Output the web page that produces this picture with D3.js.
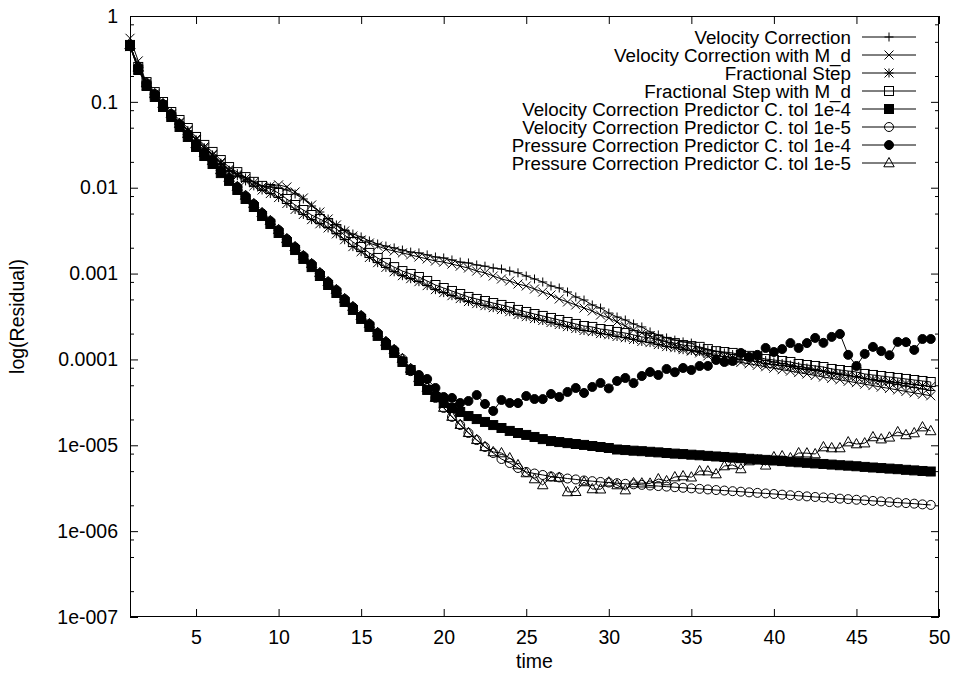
<!DOCTYPE html>
<html><head><meta charset="utf-8">
<script src="https://cdn.jsdelivr.net/npm/d3@7"></script>
<style>
body{margin:0;background:#fff;}
svg text{font-family:"Liberation Sans",Arial,Helvetica,sans-serif;}
</style>
</head><body>
<svg id="chart" width="954" height="675"></svg>
<script>
// ---------- data ----------
const times = [1,1.5,2,2.5,3,3.5,4,4.5,5,5.5,6,6.5,7,7.5,8,8.5,9,9.5,10,10.5,
 11,11.5,12,12.5,13,13.5,14,14.5,15,15.5,16,16.5,17,17.5,18,18.5,19,19.5,20,20.5,
 21,21.5,22,22.5,23,23.5,24,24.5,25,25.5,26,26.5,27,27.5,28,28.5,29,29.5,30,30.5,
 31,31.5,32,32.5,33,33.5,34,34.5,35,35.5,36,36.5,37,37.5,38,38.5,39,39.5,40,40.5,
 41,41.5,42,42.5,43,43.5,44,44.5,45,45.5,46,46.5,47,47.5,48,48.5,49,49.5];

const seriesNames = ["Velocity Correction","Velocity Correction with M_d","Fractional Step",
 "Fractional Step with M_d","Velocity Correction Predictor C. tol 1e-4",
 "Velocity Correction Predictor C. tol 1e-5","Pressure Correction Predictor C. tol 1e-4",
 "Pressure Correction Predictor C. tol 1e-5"];
const seriesMarkers = ["plus","cross","star","box","fbox","circle","fcircle","triangle"];

const velCorr = [0.45,0.245,0.160,0.121,0.093,0.071,0.057,0.046,0.036,0.029,
 0.024,0.0193,0.0160,0.0146,0.0130,0.0117,0.0105,0.0102,0.00993,0.00941,
 0.00845,0.00739,0.00612,0.00521,0.00432,0.00368,0.00322,0.00289,0.00267,0.00240,
 0.00221,0.00209,0.00199,0.00188,0.00178,0.00174,0.00165,0.00156,0.00152,0.00144,
 0.00136,0.00133,0.00126,0.00122,0.00116,0.00113,0.00107,0.00102,0.000937,0.000865,
 0.000798,0.000717,0.000679,0.000610,0.000534,0.000492,0.000431,0.000397,0.000347,0.000312,
 0.000288,0.000259,0.000239,0.000209,0.000193,0.000178,0.000168,0.000160,0.000155,0.000136,
 0.000129,0.000124,0.000119,0.000114,0.000110,0.000105,0.000101,9.72e-5,9.34e-5,8.97e-5,
 8.61e-5,8.28e-5,7.95e-5,7.63e-5,7.33e-5,7.05e-5,6.77e-5,6.50e-5,6.24e-5,6.00e-5,
 5.76e-5,5.53e-5,5.32e-5,5.11e-5,4.90e-5,4.71e-5,4.53e-5,4.35e-5];

const velCorrMd = [0.55,0.30,0.165,0.124,0.094,0.072,0.058,0.047,0.037,0.030,
 0.0245,0.0198,0.0163,0.0143,0.0128,0.0115,0.0102,0.0105,0.0108,0.0102,
 0.00892,0.00759,0.00629,0.00521,0.00432,0.00368,0.00313,0.00274,0.00246,0.00227,
 0.00209,0.00193,0.00183,0.00174,0.00165,0.00156,0.00148,0.00140,0.00136,0.00129,
 0.00122,0.00116,0.00107,0.00102,0.000937,0.000865,0.000820,0.000756,0.000717,0.000661,
 0.000610,0.000563,0.000506,0.000467,0.000431,0.000397,0.000367,0.000329,0.000304,0.000273,
 0.000245,0.000220,0.000203,0.000188,0.000173,0.000160,0.000147,0.000136,0.000125,0.000119,
 0.000110,0.000104,9.98e-5,9.59e-5,9.24e-5,8.90e-5,8.55e-5,8.21e-5,7.91e-5,7.59e-5,
 7.31e-5,7.03e-5,6.77e-5,6.50e-5,6.24e-5,6.01e-5,5.79e-5,5.56e-5,5.36e-5,5.15e-5,
 4.96e-5,4.76e-5,4.59e-5,4.41e-5,4.24e-5,4.08e-5,3.93e-5,3.77e-5];

const fracStep = [0.44,0.240,0.158,0.120,0.0925,0.0705,0.0568,0.0458,0.0358,0.0289,
 0.0239,0.0192,0.0159,0.0138,0.0120,0.0105,0.00940,0.00855,0.00768,0.00655,
 0.00558,0.00488,0.00425,0.00380,0.00340,0.00290,0.00248,0.00206,0.00180,0.00154,
 0.00134,0.00118,0.00105,0.000945,0.000872,0.000805,0.000724,0.000650,0.000600,0.000553,
 0.000511,0.000472,0.000447,0.000423,0.000401,0.000381,0.000360,0.000333,0.000315,0.000299,
 0.000284,0.000269,0.000255,0.000241,0.000229,0.000217,0.000211,0.000200,0.000194,0.000185,
 0.000179,0.000171,0.000162,0.000157,0.000149,0.000141,0.000137,0.000130,0.000127,0.000124,
 0.000117,0.000111,0.000108,0.000105,0.000100,9.72e-5,9.46e-5,8.93e-5,8.70e-5,8.48e-5,
 8.25e-5,7.82e-5,7.61e-5,7.41e-5,7.21e-5,6.84e-5,6.65e-5,6.48e-5,6.31e-5,5.98e-5,
 5.82e-5,5.67e-5,5.51e-5,5.37e-5,5.23e-5,5.09e-5,4.96e-5,4.83e-5];

const fracStepMd = [0.460,0.255,0.170,0.130,0.0996,0.0762,0.0615,0.0496,0.0390,0.0315,
 0.0261,0.0210,0.0174,0.0152,0.0133,0.0117,0.0105,0.00966,0.00868,0.00739,
 0.00629,0.00550,0.00481,0.00432,0.00388,0.00330,0.00281,0.00233,0.00204,0.00174,
 0.00152,0.00133,0.00119,0.00107,0.000989,0.000912,0.000820,0.000736,0.000679,0.000627,
 0.000578,0.000534,0.000506,0.000479,0.000454,0.000431,0.000408,0.000377,0.000357,0.000338,
 0.000321,0.000304,0.000288,0.000273,0.000259,0.000245,0.000239,0.000226,0.000220,0.000209,
 0.000203,0.000193,0.000183,0.000178,0.000168,0.000160,0.000155,0.000147,0.000143,0.000140,
 0.000132,0.000125,0.000122,0.000119,0.000113,0.000110,0.000107,0.000101,9.85e-5,9.59e-5,
 9.34e-5,8.85e-5,8.61e-5,8.39e-5,8.16e-5,7.74e-5,7.53e-5,7.33e-5,7.14e-5,6.77e-5,
 6.59e-5,6.41e-5,6.24e-5,6.08e-5,5.92e-5,5.76e-5,5.61e-5,5.46e-5];

const vcPred4 = [0.447,0.235,0.153,0.114,0.0871,0.0666,0.0510,0.0390,0.0298,0.0234,
 0.0189,0.0148,0.0120,0.00941,0.00739,0.00596,0.00468,0.00378,0.00297,0.00233,
 0.00188,0.00148,0.00119,0.000937,0.000736,0.000594,0.000467,0.000377,0.000296,0.000239,
 0.000188,0.000147,0.000119,9.34e-5,7.53e-5,5.61e-5,4.41e-5,3.65e-5,3.11e-5,2.72e-5,
 2.44e-5,2.19e-5,2.02e-5,1.87e-5,1.72e-5,1.59e-5,1.47e-5,1.39e-5,1.32e-5,1.25e-5,
 1.18e-5,1.12e-5,1.09e-5,1.06e-5,1.035e-5,1.01e-5,9.81e-6,9.55e-6,9.30e-6,8.93e-6,
 8.8e-6,8.65e-6,8.54e-6,8.4e-6,8.27e-6,8.13e-6,8.0e-6,7.9e-6,7.77e-6,7.65e-6,
 7.53e-6,7.41e-6,7.31e-6,7.19e-6,7.08e-6,6.96e-6,6.85e-6,6.76e-6,6.65e-6,6.55e-6,
 6.44e-6,6.34e-6,6.25e-6,6.15e-6,6.06e-6,5.96e-6,5.86e-6,5.79e-6,5.7e-6,5.6e-6,
 5.51e-6,5.43e-6,5.35e-6,5.27e-6,5.18e-6,5.1e-6,5.02e-6,4.95e-6];

const vcPred5 = [0.46,0.254,0.165,0.123,0.094,0.072,0.055,0.042,0.032,0.0253,
 0.0204,0.0160,0.0130,0.0102,0.0080,0.00644,0.00505,0.00408,0.00321,0.00252,
 0.00203,0.00160,0.00129,0.00101,0.000795,0.000642,0.000504,0.000407,0.000320,0.000258,
 0.000203,0.000159,0.000129,0.000101,7.74e-5,6.08e-5,4.65e-5,3.56e-5,2.72e-5,2.14e-5,
 1.72e-5,1.39e-5,1.15e-5,9.55e-6,8.13e-6,6.92e-6,6.22e-6,5.44e-6,4.89e-6,4.69e-6,
 4.51e-6,4.33e-6,4.22e-6,4.10e-6,4.00e-6,3.89e-6,3.82e-6,3.74e-6,3.68e-6,3.62e-6,
 3.56e-6,3.51e-6,3.46e-6,3.40e-6,3.35e-6,3.30e-6,3.25e-6,3.20e-6,3.15e-6,3.11e-6,
 3.06e-6,3.01e-6,2.97e-6,2.92e-6,2.88e-6,2.83e-6,2.79e-6,2.75e-6,2.71e-6,2.66e-6,
 2.62e-6,2.58e-6,2.54e-6,2.50e-6,2.47e-6,2.43e-6,2.39e-6,2.36e-6,2.32e-6,2.29e-6,
 2.25e-6,2.22e-6,2.18e-6,2.15e-6,2.12e-6,2.09e-6,2.05e-6,2.02e-6];

const pcPred4 = [0.455,0.25,0.163,0.122,0.093,0.0712,0.0545,0.0416,0.0318,0.0251,
 0.0202,0.0158,0.0128,0.0101,0.0079,0.00638,0.00500,0.00404,0.00318,0.00250,
 0.00201,0.00158,0.00128,0.00100,0.000788,0.000636,0.000500,0.000403,0.000317,0.000256,
 0.000201,0.000158,0.000127,9.6e-5,7.3e-5,6.59e-5,5.92e-5,4.65e-5,3.65e-5,3.56e-5,
 3.11e-5,3.28e-5,3.85e-5,3.03e-5,2.51e-5,3.37e-5,3.11e-5,3.1e-5,3.75e-5,3.46e-5,
 3.45e-5,3.96e-5,3.65e-5,4.18e-5,4.65e-5,4.07e-5,4.78e-5,5.32e-5,4.6e-5,5.61e-5,
 6.08e-5,5.3e-5,6.41e-5,7.14e-5,6.59e-5,7.74e-5,7.1e-5,7.95e-5,7.53e-5,8.39e-5,
 8.4e-5,9.85e-5,9.34e-5,9.59e-5,1.19e-4,1.07e-4,1.13e-4,1.36e-4,1.22e-4,1.32e-4,
 1.55e-4,1.36e-4,1.55e-4,1.78e-4,1.56e-4,1.83e-4,1.98e-4,1.13e-4,8.39e-5,1.16e-4,
 1.40e-4,1.25e-4,1.12e-4,1.60e-4,1.59e-4,1.29e-4,1.73e-4,1.73e-4];

const pcPred5 = [0.46,0.252,0.166,0.124,0.095,0.0725,0.0555,0.0425,0.0323,0.0255,
 0.0206,0.0161,0.0131,0.0103,0.0081,0.00650,0.00510,0.00412,0.00324,0.00254,
 0.00205,0.00161,0.00130,0.00102,0.000802,0.000648,0.000509,0.000411,0.000323,0.000260,
 0.000205,0.000161,0.000130,0.000102,7.8e-5,6.1e-5,4.7e-5,3.6e-5,2.75e-5,2.16e-5,
 1.74e-5,1.40e-5,1.16e-5,9.6e-6,8.36e-6,8.13e-6,7.11e-6,5.90e-6,4.76e-6,4.05e-6,
 3.45e-6,4.27e-6,4.22e-6,2.86e-6,2.88e-6,3.74e-6,3.10e-6,3.08e-6,3.72e-6,3.45e-6,
 3.01e-6,3.64e-6,3.62e-6,3.60e-6,4.05e-6,3.84e-6,4.27e-6,4.39e-6,4.25e-6,5.02e-6,
 5.0e-6,4.63e-6,5.74e-6,5.90e-6,5.30e-6,6.56e-6,6.74e-6,5.85e-6,7.31e-6,7.50e-6,
 7.11e-6,8.13e-6,8.1e-6,7.92e-6,9.55e-6,9.30e-6,9.3e-6,1.09e-5,1.035e-5,1.06e-5,
 1.25e-5,1.18e-5,1.24e-5,1.43e-5,1.32e-5,1.39e-5,1.63e-5,1.47e-5];

const xTicks = [5,10,15,20,25,30,35,40,45,50];
const yTicks = [1,0.1,0.01,0.001,0.0001,1e-5,1e-6,1e-7];
const yTickLabels = ["1","0.1","0.01","0.001","0.0001","1e-005","1e-006","1e-007"];
const yMinorTicks = [0.8,0.5,0.2,0.08,0.05,0.02,0.008,0.005,0.002,0.0008,0.0005,0.0002,
 8e-5,5e-5,2e-5,8e-6,5e-6,2e-6,8e-7,5e-7,2e-7];
const xLabel = "time";
const yLabel = "log(Residual)";

const seriesValues = [velCorr, velCorrMd, fracStep, fracStepMd, vcPred4, vcPred5, pcPred4, pcPred5];

// ---------- drawing ----------
const svg = d3.select("#chart");
const L = 130, R = 939, T = 16, B = 617;
const x = d3.scaleLinear().domain([1, 50]).range([L, R]);
const y = d3.scaleLog().domain([1e-7, 1]).range([B, T]);
const FONT = 19.5;
const LEGEND_FONT = 18.8;

svg.append("rect").attr("width", 954).attr("height", 675).attr("fill", "#fff");

function styleAxis(g) {
  g.attr("font-size", FONT).attr("font-family", '"Liberation Sans", Arial, sans-serif');
  g.select(".domain").remove();
  g.selectAll("text").attr("fill", "#000");
  g.selectAll("line").attr("stroke", "#000");
}

// bottom
svg.append("g").attr("transform", `translate(0,${B})`)
  .call(d3.axisBottom(x).tickValues(xTicks).tickSizeInner(-8).tickSizeOuter(0).tickPadding(13).tickFormat(d3.format("d")))
  .call(styleAxis);
// top mirror
svg.append("g").attr("transform", `translate(0,${T})`)
  .call(d3.axisTop(x).tickValues(xTicks).tickSizeInner(-8).tickSizeOuter(0).tickFormat(""))
  .call(styleAxis);
// left
svg.append("g").attr("transform", `translate(${L},0)`)
  .call(d3.axisLeft(y).tickValues(yTicks).tickSizeInner(-8).tickSizeOuter(0).tickPadding(12)
    .tickFormat((d, i) => yTickLabels[i]))
  .call(styleAxis);
svg.append("g").attr("transform", `translate(${L},0)`)
  .call(d3.axisLeft(y).tickValues(yMinorTicks).tickSizeInner(-4).tickSizeOuter(0).tickFormat(""))
  .call(styleAxis);
// right mirror
svg.append("g").attr("transform", `translate(${R},0)`)
  .call(d3.axisRight(y).tickValues(yTicks).tickSizeInner(-8).tickSizeOuter(0).tickFormat(""))
  .call(styleAxis);
svg.append("g").attr("transform", `translate(${R},0)`)
  .call(d3.axisRight(y).tickValues(yMinorTicks).tickSizeInner(-4).tickSizeOuter(0).tickFormat(""))
  .call(styleAxis);

// border
svg.append("rect").attr("x", L + 0.5).attr("y", T + 0.5).attr("width", R - L - 1).attr("height", B - T - 1)
  .attr("fill", "none").attr("stroke", "#000").attr("stroke-width", 1);

// axis labels
svg.append("text").attr("x", (L + R) / 2).attr("y", 668).attr("text-anchor", "middle")
  .attr("font-size", FONT).text(xLabel);
svg.append("text").attr("transform", `translate(24,${(T + B) / 2}) rotate(-90)`).attr("text-anchor", "middle")
  .attr("font-size", FONT).text(yLabel);

// markers
function drawMarker(g, type, cx, cy) {
  const s = 4.5;
  if (type === "plus") {
    g.append("path").attr("d", `M${cx - s},${cy}H${cx + s}M${cx},${cy - s}V${cy + s}`).attr("stroke", "#000").attr("fill", "none");
  } else if (type === "cross") {
    g.append("path").attr("d", `M${cx - s},${cy - s}L${cx + s},${cy + s}M${cx - s},${cy + s}L${cx + s},${cy - s}`).attr("stroke", "#000").attr("fill", "none");
  } else if (type === "star") {
    g.append("path").attr("d", `M${cx - s},${cy}H${cx + s}M${cx},${cy - s}V${cy + s}M${cx - s},${cy - s}L${cx + s},${cy + s}M${cx - s},${cy + s}L${cx + s},${cy - s}`).attr("stroke", "#000").attr("fill", "none");
  } else if (type === "box") {
    g.append("rect").attr("x", cx - s).attr("y", cy - s).attr("width", 2 * s).attr("height", 2 * s).attr("stroke", "#000").attr("fill", "none");
  } else if (type === "fbox") {
    g.append("rect").attr("x", cx - s).attr("y", cy - s).attr("width", 2 * s).attr("height", 2 * s).attr("stroke", "#000").attr("fill", "#000");
  } else if (type === "circle") {
    g.append("circle").attr("cx", cx).attr("cy", cy).attr("r", s).attr("stroke", "#000").attr("fill", "none");
  } else if (type === "fcircle") {
    g.append("circle").attr("cx", cx).attr("cy", cy).attr("r", s).attr("stroke", "#000").attr("fill", "#000");
  } else if (type === "triangle") {
    g.append("path").attr("d", `M${cx},${cy - 5.5}L${cx + 5.2},${cy + 3.8}L${cx - 5.2},${cy + 3.8}Z`).attr("stroke", "#000").attr("fill", "none");
  }
}

const line = d3.line().x((d, i) => x(times[i])).y(d => y(d));

seriesValues.forEach((vals, k) => {
  const g = svg.append("g").attr("class", "series");
  g.append("path").attr("d", line(vals)).attr("fill", "none").attr("stroke", "#000").attr("stroke-width", 1);
  vals.forEach((v, i) => drawMarker(g, seriesMarkers[k], x(times[i]), y(v)));
});

// legend
const legend = svg.append("g").attr("class", "legend");
seriesNames.forEach((name, k) => {
  const ly = 37 + 18 * k;
  legend.append("text").attr("x", 851).attr("y", ly).attr("dy", "0.35em").attr("text-anchor", "end")
    .attr("font-size", LEGEND_FONT).attr("fill", "#000").text(name);
  legend.append("line").attr("x1", 862).attr("x2", 916).attr("y1", ly).attr("y2", ly).attr("stroke", "#000");
  drawMarker(legend, seriesMarkers[k], 889, ly);
});
</script>
</body></html>
